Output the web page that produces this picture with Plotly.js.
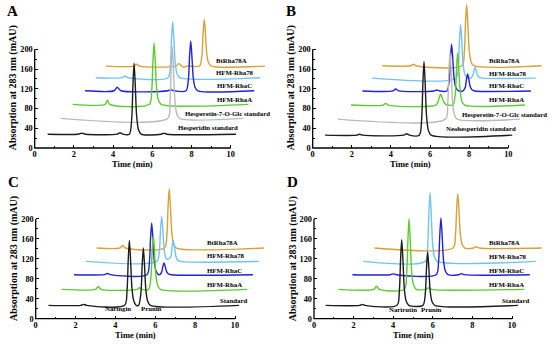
<!DOCTYPE html>
<html><head><meta charset="utf-8">
<script src="https://cdn.plot.ly/plotly-3.0.1.min.js"></script>
<style>html,body{margin:0;padding:0;background:#fff}#chart{width:550px;height:344px}</style>
</head><body><div id="chart"></div>
<script>
// ================= DATA (time in min, absorption in mAU, as drawn with the stacking offsets) =================
const xTicks = [0, 2, 4, 6, 8, 10];
const xMinorTicks = [1, 3, 5, 7, 9];
const yTicks = [0, 40, 80, 120, 160, 200];
const yMinorTicks = [20, 60, 100, 140, 180];

// ---- Panel A ----
const namesA = ['Hesperidin standard', 'Hesperetin-7-O-Glc standard', 'HFM-RhaA', 'HFM-RhaC', 'HFM-Rha78', 'BtRha78A'];
const A_std_t = [0.66, 2.2, 2.4, 2.6, 4.2, 4.35, 4.5, 4.83, 4.95, 5.01, 5.07, 5.13, 5.2, 5.29, 5.43, 6.45, 6.6, 6.75, 10.27];
const A_std_v = [28, 28, 30, 28, 28, 31, 28, 28, 59.7, 125.9, 172, 128.8, 65.4, 38.1, 28, 28, 30, 28, 28];
const A_glc_t = [1.34, 6.78, 6.9, 6.96, 7.02, 7.08, 7.15, 7.24, 7.38, 10.65];
const A_glc_v = [60, 60, 91.9, 158.6, 205, 161.5, 97.7, 70.2, 60, 60];
const A_rhaA_t = [1.94, 3.59, 3.71, 3.83, 5.85, 5.97, 6.03, 6.09, 6.15, 6.22, 6.31, 6.45, 10.9];
const A_rhaA_v = [88.5, 88.5, 97, 88.5, 88.5, 115.9, 173.2, 213, 175.7, 120.9, 97.2, 88.5, 88.5];
const A_rhaC_t = [2.57, 4.05, 4.21, 4.4, 6.8, 6.95, 7.1, 7.72, 7.84, 7.9, 7.96, 8.02, 8.09, 8.18, 8.32, 11.2];
const A_rhaC_v = [116, 116, 123, 116, 116, 118, 116, 116, 138.2, 184.7, 217, 186.7, 142.3, 123.1, 116, 116];
const A_rha78_t = [3.11, 4.45, 4.6, 4.75, 6.8, 6.92, 6.98, 7.04, 7.1, 7.17, 7.26, 7.4, 11.5];
const A_rha78_v = [142.5, 142.5, 146, 142.5, 142.5, 167.5, 219.7, 256, 222, 172, 150.4, 142.5, 142.5];
const A_bt_t = [3.64, 5.05, 5.2, 5.35, 7.2, 7.35, 7.5, 7.62, 7.75, 8.41, 8.53, 8.59, 8.65, 8.71, 8.78, 8.87, 9.01, 11.75];
const A_bt_v = [166, 166, 170, 166, 166, 171, 166, 163.5, 166, 166, 186.9, 230.6, 261, 232.5, 190.7, 172.7, 166, 166];

// ---- Panel B ----
const namesB = ['Neohesperidin standard', 'Hesperetin-7-O-Glc standard', 'HFM-RhaA', 'HFM-RhaC', 'HFM-Rha78', 'BtRha78A'];
const B_std_t = [0.63, 2.25, 2.4, 2.55, 4.65, 4.8, 4.95, 5.45, 5.57, 5.63, 5.69, 5.75, 5.82, 5.91, 6.05, 10.2];
const B_std_v = [26, 26, 28, 26, 26, 29, 26, 26, 58.9, 127.7, 175.5, 130.7, 64.9, 36.5, 26, 26];
const B_glc_t = [1.28, 6.78, 6.9, 6.96, 7.02, 7.08, 7.15, 7.24, 7.38, 10.6];
const B_glc_v = [58.5, 58.5, 88.5, 151.3, 195, 154.1, 94, 68.1, 58.5, 58.5];
const B_rhaA_t = [1.96, 3.6, 3.73, 3.86, 6.3, 6.42, 6.48, 6.54, 6.6, 6.68, 6.8, 6.95, 7.17, 7.29, 7.35, 7.41, 7.47, 7.54, 7.63, 7.77, 10.85];
const B_rhaA_v = [87, 87, 90.5, 87, 87, 95, 103, 109, 104, 95, 88.5, 87, 87, 110.2, 158.7, 192.5, 160.9, 114.4, 94.4, 87, 87];
const B_rhaC_t = [2.54, 4.1, 4.24, 4.4, 6.2, 6.34, 6.48, 6.86, 6.98, 7.04, 7.1, 7.16, 7.23, 7.32, 7.46, 7.68, 7.8, 7.86, 7.92, 7.98, 8.05, 8.14, 8.28, 11.16];
const B_rhaC_v = [115.6, 115.6, 119.6, 115.6, 115.6, 117.5, 115.6, 115.6, 136.6, 180.5, 211, 182.4, 140.4, 122.3, 115.6, 115.6, 123.2, 139, 150, 139.7, 124.5, 118, 115.6, 115.6];
const B_rha78_t = [3.05, 7.32, 7.44, 7.5, 7.56, 7.62, 7.69, 7.78, 7.92, 8.06, 8.18, 8.24, 8.3, 8.36, 8.43, 8.52, 8.66, 11.4];
const B_rha78_v = [141.5, 141.5, 165.4, 215.3, 250, 217.5, 169.7, 149.1, 141.5, 141.5, 146.2, 156.1, 163, 156.6, 147.1, 143, 141.5, 141.5];
const B_bt_t = [3.56, 5.0, 5.14, 5.28, 7.63, 7.75, 7.81, 7.87, 7.93, 8.0, 8.09, 8.23, 11.7];
const B_bt_v = [166.7, 166.7, 169.7, 166.7, 166.7, 194, 251.2, 291, 253.7, 199, 175.4, 166.7, 166.7];

// ---- Panel C ----
const namesC = ['Standard', 'HFM-RhaA', 'HFM-RhaC', 'HFM-Rha78', 'BtRha78A'];
const peakNamesC = ['Naringin', 'Prunin'];
const C_std_t = [0.64, 2.25, 2.4, 2.55, 4.46, 4.58, 4.64, 4.7, 4.76, 4.83, 4.92, 5.04, 5.16, 5.28, 5.34, 5.4, 5.46, 5.53, 5.62, 5.76, 10.2];
const C_std_v = [26.8, 26.8, 28.8, 26.8, 26.8, 55.4, 115.3, 157, 117.9, 60.7, 35.9, 26.8, 26.8, 52.1, 105.1, 142, 107.4, 56.8, 34.9, 26.8, 26.8];
const C_rhaA_t = [1.3, 3.0, 3.14, 3.28, 5.08, 5.2, 5.32, 5.66, 5.78, 5.84, 5.9, 5.96, 6.03, 6.12, 6.26, 10.6];
const C_rhaA_v = [58.9, 58.9, 64, 58.9, 58.9, 62, 58.9, 58.9, 83, 133.5, 168.6, 135.7, 87.4, 66.6, 58.9, 58.9];
const C_rhaC_t = [1.92, 3.45, 3.6, 3.75, 5.58, 5.7, 5.76, 5.82, 5.88, 5.95, 6.04, 6.16, 6.22, 6.32, 6.38, 6.44, 6.5, 6.57, 6.66, 6.8, 10.9];
const C_rhaC_v = [88.3, 88.3, 90.8, 88.3, 88.3, 111.1, 158.8, 192, 160.9, 115.3, 95.6, 88.3, 88.3, 93.5, 104.4, 112, 104.9, 94.5, 90, 88.3, 88.3];
const C_rha78_t = [2.52, 6.08, 6.2, 6.26, 6.32, 6.38, 6.45, 6.54, 6.63, 6.78, 6.84, 6.9, 6.96, 7.03, 7.12, 7.26, 11.2];
const C_rha78_v = [115, 115, 134.8, 176.2, 205, 178, 138.4, 121.3, 119, 124.2, 143.6, 157, 144.4, 125.9, 117.9, 115, 115];
const C_bt_t = [3.06, 4.22, 4.36, 4.5, 6.46, 6.58, 6.64, 6.7, 6.76, 6.83, 6.92, 7.06, 11.45];
const C_bt_v = [141.8, 141.8, 147, 141.8, 141.8, 168, 222.9, 261, 225.2, 172.8, 150.1, 141.8, 141.8];

// ---- Panel D ----
const namesD = ['Standard', 'HFM-RhaA', 'HFM-RhaC', 'HFM-Rha78', 'BtRha78A'];
const peakNamesD = ['Narirutin', 'Prunin'];
const D_std_t = [0.59, 2.3, 2.44, 2.58, 4.19, 4.31, 4.37, 4.43, 4.49, 4.56, 4.65, 4.79, 5.5, 5.62, 5.68, 5.74, 5.8, 5.87, 5.96, 6.1, 10.3];
const D_std_v = [26.8, 26.8, 28.8, 26.8, 26.8, 55.8, 116.4, 158.5, 119, 61, 36, 26.8, 26.8, 50.3, 99.6, 133.8, 101.7, 54.6, 34.3, 26.8, 26.8];
const D_rhaA_t = [1.23, 3.02, 3.16, 3.3, 4.56, 4.68, 4.74, 4.8, 4.86, 4.93, 5.02, 5.16, 5.65, 5.8, 5.95, 10.62];
const D_rhaA_v = [58.9, 58.9, 65, 58.9, 58.9, 90.1, 155.3, 200.7, 158.2, 95.8, 68.8, 58.9, 58.9, 62, 58.9, 58.9];
const D_rhaC_t = [1.94, 3.85, 4.0, 4.15, 6.17, 6.29, 6.35, 6.41, 6.47, 6.54, 6.63, 6.77, 7.3, 7.46, 7.6, 10.9];
const D_rhaC_v = [88.3, 88.3, 90, 88.3, 88.3, 113.3, 165.6, 202, 167.9, 117.9, 96.3, 88.3, 88.3, 90.5, 88.3, 88.3];
const D_rha78_t = [2.49, 5.62, 5.74, 5.8, 5.86, 5.92, 5.99, 6.08, 6.22, 11.2];
const D_rha78_v = [115, 115, 145.3, 208.7, 252.8, 211.5, 150.8, 124.6, 115, 115];
const D_bt_t = [3.05, 7.02, 7.14, 7.2, 7.26, 7.32, 7.39, 7.48, 7.62, 8.05, 8.2, 8.35, 11.5];
const D_bt_v = [141.8, 141.8, 165.8, 215.9, 250.8, 218.1, 170.1, 149.4, 141.8, 141.8, 144.3, 141.8, 141.8];

// ================= STYLE / LAYOUT =================
const W = 550, H = 344;
const XR = [0, 11.9], YR = [0, 298];
const COL = {std: '#1c1c1c', glc: '#bababa', rhaA: '#5ccb2e', rhaC: '#2222d6', rha78: '#72c4f0', bt: '#d9a035'};
const FONT = 'Liberation Serif, Times New Roman, serif';

const panels = [
  {letter: 'A', ax: '', g: {x0: 34.7, sx: 19.6, y0: 148, sy: 0.4935},
   series: [[A_bt_t, A_bt_v, 'bt', 5], [A_rha78_t, A_rha78_v, 'rha78', 4], [A_rhaC_t, A_rhaC_v, 'rhaC', 3],
            [A_rhaA_t, A_rhaA_v, 'rhaA', 2], [A_glc_t, A_glc_v, 'glc', 1], [A_std_t, A_std_v, 'std', 0]],
   names: namesA,
   labelPos: [[7.24, 41], [7.62, 69], [9.25, 98.6], [9.25, 127], [9.21, 152.6], [9.21, 177.7]],
   peakNames: [], peakPos: []},
  {letter: 'B', ax: '2', g: {x0: 312.7, sx: 19.56, y0: 148, sy: 0.4935},
   series: [[B_bt_t, B_bt_v, 'bt', 5], [B_rha78_t, B_rha78_v, 'rha78', 4], [B_rhaC_t, B_rhaC_v, 'rhaC', 3],
            [B_rhaA_t, B_rhaA_v, 'rhaA', 2], [B_glc_t, B_glc_v, 'glc', 1], [B_std_t, B_std_v, 'std', 0]],
   names: namesB,
   labelPos: [[6.76, 39.5], [7.58, 68.7], [8.98, 98.6], [8.98, 125.9], [8.98, 151.7], [8.98, 176.9]],
   peakNames: [], peakPos: []},
  {letter: 'C', ax: '3', g: {x0: 35.7, sx: 19.93, y0: 318.7, sy: 0.4985},
   series: [[C_bt_t, C_bt_v, 'bt', 4], [C_rha78_t, C_rha78_v, 'rha78', 3], [C_rhaC_t, C_rhaC_v, 'rhaC', 2],
            [C_rhaA_t, C_rhaA_v, 'rhaA', 1], [C_std_t, C_std_v, 'std', 0]],
   names: namesC,
   labelPos: [[9.21, 36.8], [8.55, 68.2], [8.55, 95.7], [8.55, 125.8], [8.55, 152.5]],
   peakNames: peakNamesC, peakPos: [[4.11, 20], [5.79, 20]]},
  {letter: 'D', ax: '4', g: {x0: 314, sx: 19.8, y0: 318.7, sy: 0.4985},
   series: [[D_bt_t, D_bt_v, 'bt', 4], [D_rha78_t, D_rha78_v, 'rha78', 3], [D_rhaC_t, D_rhaC_v, 'rhaC', 2],
            [D_rhaA_t, D_rhaA_v, 'rhaA', 1], [D_std_t, D_std_v, 'std', 0]],
   names: namesD,
   labelPos: [[9.44, 36.8], [8.8, 68.2], [8.8, 96.3], [8.8, 125.1], [8.8, 152.5]],
   peakNames: peakNamesD, peakPos: [[4.51, 18.7], [5.94, 18.7]]}
];

const data = [];
const layout = {
  width: W, height: H, margin: {l: 0, r: 0, t: 0, b: 0},
  paper_bgcolor: '#fff', plot_bgcolor: 'rgba(0,0,0,0)', showlegend: false,
  annotations: [], shapes: [], font: {family: FONT, color: '#000'}
};

panels.forEach(p => {
  const g = p.g;
  const xd = [g.x0 / W, (g.x0 + g.sx * XR[1]) / W];
  const yd = [1 - g.y0 / H, 1 - (g.y0 - g.sy * YR[1]) / H];
  const xa = 'x' + p.ax, ya = 'y' + p.ax;
  const tickfont = {family: FONT, size: 8.3, weight: 'bold', color: '#000'};
  layout['xaxis' + p.ax] = {
    domain: xd, range: XR, anchor: ya, showline: false, zeroline: false, showgrid: false,
    ticks: 'inside', ticklen: 3, tickwidth: 1, tickcolor: '#000', tickmode: 'array',
    tickvals: xTicks, ticktext: xTicks.map(String), tickfont: tickfont, ticklabelstandoff: 0,
    minor: {tickmode: 'array', tickvals: xMinorTicks, ticks: 'inside', ticklen: 2, tickwidth: 1, tickcolor: '#000', showgrid: false},
    fixedrange: true
  };
  layout['yaxis' + p.ax] = {
    domain: yd, range: YR, anchor: xa, showline: false, zeroline: false, showgrid: false,
    ticks: 'inside', ticklen: 3, tickwidth: 1, tickcolor: '#000', tickmode: 'array',
    tickvals: yTicks, ticktext: yTicks.map(String), tickfont: tickfont, ticklabelstandoff: 1,
    minor: {tickmode: 'array', tickvals: yMinorTicks, ticks: 'inside', ticklen: 2, tickwidth: 1, tickcolor: '#000', showgrid: false},
    fixedrange: true
  };
  // axis lines (0-10 min, 0-200 mAU)
  layout.shapes.push({type: 'line', xref: xa + ' domain', yref: ya + ' domain',
    x0: -0.6 / (g.sx * XR[1]), x1: xTicks[xTicks.length - 1] / XR[1], y0: 0, y1: 0, line: {color: '#000', width: 1.3}});
  layout.shapes.push({type: 'line', xref: xa + ' domain', yref: ya + ' domain',
    x0: 0, x1: 0, y0: 0, y1: yTicks[yTicks.length - 1] / YR[1], line: {color: '#000', width: 1.3}});

  p.series.forEach(s => {
    data.push({type: 'scatter', mode: 'lines', x: s[0], y: s[1], xaxis: xa, yaxis: ya,
      name: p.names[s[3]], line: {color: COL[s[2]], width: 1.4, shape: 'spline', smoothing: 0.8},
      hoverinfo: 'skip'});
  });
  const lblFont = {family: FONT, size: 6.8, weight: 'bold', color: '#000'};
  p.names.forEach((n, i) => {
    layout.annotations.push({text: n, x: p.labelPos[i][0], y: p.labelPos[i][1], xref: xa, yref: ya,
      xanchor: 'left', yanchor: 'middle', showarrow: false, borderpad: 0, font: lblFont});
  });
  p.peakNames.forEach((n, i) => {
    layout.annotations.push({text: n, x: p.peakPos[i][0], y: p.peakPos[i][1], xref: xa, yref: ya,
      xanchor: 'center', yanchor: 'middle', showarrow: false, borderpad: 0, font: lblFont});
  });
  // panel letter
  layout.annotations.push({text: p.letter, xref: 'paper', yref: 'paper',
    x: (g.x0 - 22) / W, y: 1 - (g.y0 - 137) / H, xanchor: 'center', yanchor: 'middle', showarrow: false,
    font: {family: FONT, size: 15, weight: 'bold', color: '#000'}});
  // axis titles
  layout.annotations.push({text: 'Time (min)', xref: 'paper', yref: 'paper',
    x: (g.x0 + g.sx * 5) / W, y: 1 - (g.y0 + 16) / H, xanchor: 'center', yanchor: 'middle', showarrow: false,
    font: {family: FONT, size: 8.5, weight: 'bold', color: '#000'}});
  layout.annotations.push({text: 'Absorption at 283 nm (mAU)', xref: 'paper', yref: 'paper', textangle: -90,
    x: (g.x0 - 21.5) / W, y: 1 - (g.y0 - 60) / H, xanchor: 'center', yanchor: 'middle', showarrow: false,
    font: {family: FONT, size: 10, weight: 'bold', color: '#000'}});
});

Plotly.newPlot('chart', data, layout, {staticPlot: true, displayModeBar: false});
</script>
</body></html>
